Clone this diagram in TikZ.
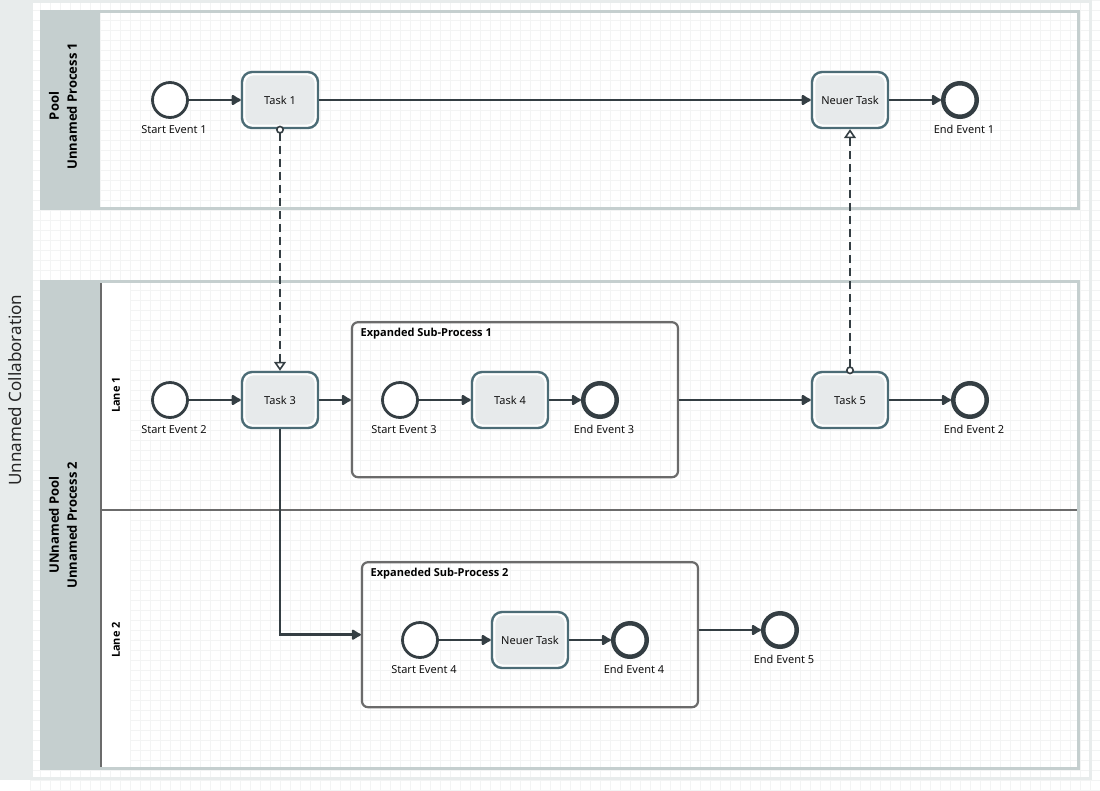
\documentclass[tikz,border=0pt]{standalone}
\usepackage{fontspec}
\setmainfont{Noto Sans}
\newfontfamily\headfont{Open Sans}
\usetikzlibrary{arrows.meta,positioning,calc}

\definecolor{collabGray}{HTML}{E8ECEC}
\definecolor{poolGray}{HTML}{C5CFCF}
\definecolor{gridGray}{HTML}{F3F4F4}
\definecolor{flowDark}{HTML}{343E43}
\definecolor{taskEdge}{HTML}{4C6C76}
\definecolor{taskFill}{HTML}{E7EAEB}
\definecolor{laneLine}{HTML}{6B6B6B}
\definecolor{labelText}{HTML}{111111}

\begin{document}
\begin{tikzpicture}[x=1pt,y=-1pt,>={Latex[length=11pt,width=13pt,round]}]
  \useasboundingbox (0,0) rectangle (1100,790);
  \tikzset{
    startEvent/.style={circle,draw=flowDark,line width=2.8pt,fill=white,minimum size=35pt,inner sep=0pt},
    endEvent/.style={circle,draw=flowDark,line width=4.5pt,fill=white,minimum size=33.5pt,inner sep=0pt},
    task/.style={rectangle,rounded corners=10pt,draw=taskEdge,line width=2.4pt,fill=white,
      minimum width=76pt,minimum height=56pt,inner sep=0pt,text=labelText,
      font=\fontsize{11}{13}\selectfont,
      path picture={\fill[taskFill,rounded corners=8pt]
        ([shift={(3.4pt,-3.4pt)}]path picture bounding box.north west) rectangle
        ([shift={(-3.4pt,3.4pt)}]path picture bounding box.south east);}},
    subProcess/.style={rectangle,rounded corners=6pt,draw=laneLine,line width=2.2pt,inner sep=0pt},
    % edge styles
    seqIn/.style={draw=flowDark,line width=2.6pt,<-},
    seqFlow/.style={draw=flowDark,line width=2.6pt,->},
    msgFlow/.style={draw=flowDark,line width=2.4pt,dash pattern=on 8pt off 5pt,shorten <=-3.5pt,
      {Circle[length=8pt,width=8pt,fill=white,line width=1.6pt]}-{Triangle[length=9pt,width=12pt,fill=white,line width=1.6pt]}},
    % label styles
    evLabel/.style={font=\fontsize{11}{13}\selectfont,text=labelText,inner sep=2pt,xshift=4pt},
    spTitle/.style={font=\headfont\bfseries\fontsize{11}{13}\selectfont,text=black,anchor=west,inner sep=0pt},
    poolText/.style={font=\headfont\bfseries\fontsize{13}{18}\selectfont,text=black,rotate=90,align=center},
    laneText/.style={font=\headfont\bfseries\fontsize{11}{13}\selectfont,text=black,rotate=90}
  }

  % Background
  \draw [gridGray,line width=0.8pt,step=10pt] (30,0) grid (1100,790);
  \fill [collabGray] (0,0) rectangle (30,780);
  \draw [collabGray,line width=3pt] (31.5,1.5) rectangle (1090,778.5);
  \node [rotate=90,font=\fontsize{17}{20}\selectfont,text=black!85] (collab) at (15,390) {Unnamed Collaboration};

  % Pool 1
  \draw [poolGray,line width=3pt] (41.5,11.5) rectangle (1078.5,208.5);
  \fill [poolGray] (40,10) rectangle (100,210);
  \node [poolText] (pool1) at (63,106) {Pool\\Unnamed Process 1};

  % Pool 2
  \draw [poolGray,line width=3pt] (41.5,281.5) rectangle (1078.5,768.5);
  \fill [poolGray] (40,280) rectangle (100,770);
  \fill [white] (102,283) rectangle (130,767);
  \draw [laneLine,line width=2pt] (101,283) -- (101,767);
  \draw [laneLine,line width=2pt] (101,510) -- (1077,510);
  \node [poolText] (pool2) at (63,525) {UNnamed Pool\\Unnamed Process 2};
  \node [laneText] (lane1) at (116,395) {Lane 1};
  \node [laneText] (lane2) at (116,640) {Lane 2};

  % Process 1
  \node [startEvent] (se1) at (170,100) {};
  \node [evLabel,below=4pt of se1] (lse1) {Start Event 1};

  \node [task] (t1) at (280,100) {Task 1}
  edge [seqIn] (se1);

  \node [task] (nt1) at (850,100) {Neuer Task}
  edge [seqIn] (t1);

  \node [endEvent] (ee1) at (960,100) {}
  edge [seqIn] (nt1);
  \node [evLabel,below=4pt of ee1] (lee1) {End Event 1};

  % Lane 1
  \node [subProcess,minimum width=326pt,minimum height=155pt] (sp1) at (515,399.7) {};
  \node [spTitle] (sp1title) at (360.5,334) {Expanded Sub-Process 1};

  \node [startEvent] (se2) at (170,400) {};
  \node [evLabel,below=4pt of se2] (lse2) {Start Event 2};

  \node [task] (t3) at (280,400) {Task 3}
  edge [seqIn] (se2);

  \node [startEvent] (se3) at (400,400) {};
  \node [evLabel,below=4pt of se3] (lse3) {Start Event 3};

  \node [task] (t4) at (510,400) {Task 4}
  edge [seqIn] (se3);

  \node [endEvent] (ee3) at (600,400) {}
  edge [seqIn] (t4);
  \node [evLabel,below=4pt of ee3] (lee3) {End Event 3};

  \node [task] (t5) at (850,400) {Task 5};

  \node [endEvent] (ee2) at (970,400) {}
  edge [seqIn] (t5);
  \node [evLabel,below=4pt of ee2] (lee2) {End Event 2};

  % Lane 2
  \node [subProcess,minimum width=336pt,minimum height=145pt] (sp2) at (530,634.7) {};
  \node [spTitle] (sp2title) at (370.5,574) {Expaneded Sub-Process 2};

  \node [startEvent] (se4) at (420,640) {};
  \node [evLabel,below=4pt of se4] (lse4) {Start Event 4};

  \node [task] (nt2) at (530,640) {Neuer Task}
  edge [seqIn] (se4);

  \node [endEvent] (ee4) at (630,640) {}
  edge [seqIn] (nt2);
  \node [evLabel,below=4pt of ee4] (lee4) {End Event 4};

  \node [endEvent] (ee5) at (780,630) {};
  \node [evLabel,below=4pt of ee5] (lee5) {End Event 5};

  % Flows between blocks
  \draw [seqFlow] (t3.east) -- (t3.east -| sp1.west);
  \draw [seqFlow] (sp1.east |- t5) -- (t5.west);
  \draw [seqFlow] (t3.south) |- (sp2.west);
  \draw [seqFlow] (sp2.east |- ee5) -- (ee5.west);

  % Message flows
  \draw [msgFlow] (t1.south) -- (t3.north);
  \draw [msgFlow] (t5.north) -- (nt1.south);

\end{tikzpicture}
\end{document}
